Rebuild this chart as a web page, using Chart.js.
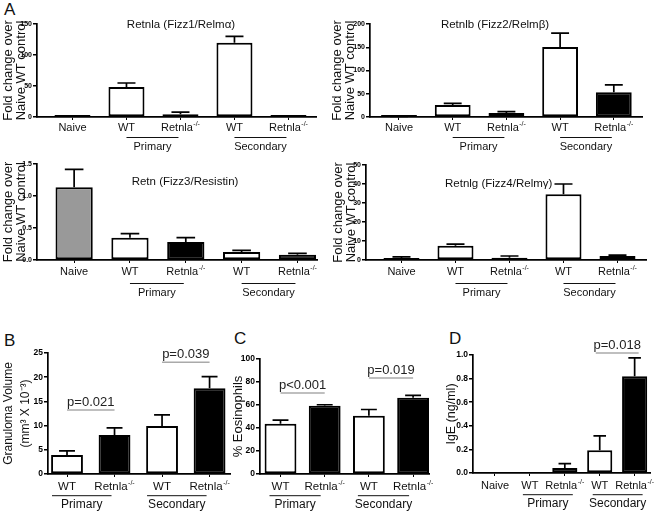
<!DOCTYPE html>
<html>
<head>
<meta charset="utf-8">
<script src="https://cdn.jsdelivr.net/npm/chart.js@4.4.0/dist/chart.umd.min.js"></script>
<style>
  body { margin: 0; width: 661px; height: 514px; background: #fff; position: relative; overflow: hidden; font-family: 'Liberation Sans', Arial, sans-serif; }
  canvas { position: absolute; }
  .letter { position: absolute; font-size: 17px; line-height: 1; color: #111; }
</style>
</head>
<body>
<div class="letter" style="left:4px;top:1px">A</div>
<div class="letter" style="left:4px;top:332px">B</div>
<div class="letter" style="left:234px;top:330px">C</div>
<div class="letter" style="left:449px;top:330px">D</div>
<script>
// categories
const groupNames = ['Primary', 'Secondary'];
const aLabels = ['Naive', 'WT', 'Retnla', 'WT', 'Retnla'];
const aSupers = ['', '', '-/-', '', '-/-'];
const aGroups = [null, 0, 0, 1, 1];
const bcLabels = ['WT', 'Retnla', 'WT', 'Retnla'];
const bcSupers = ['', '-/-', '', '-/-'];
const bcGroups = [0, 0, 1, 1];

// panel A, fold change over naive WT control (mean, SEM)
const retnlaMean = [1, 48.4, 4.3, 119.9, 0.3];
const retnlaSem = [0.3, 6.4, 3.7, 10.1, 0];
const retnlbMean = [1, 25.8, 8.6, 150.5, 53];
const retnlbSem = [0.3, 3.6, 2.9, 30, 16];
const retnMean = [1.135, 0.349, 0.281, 0.125, 0.083];
const retnSem = [0.282, 0.062, 0.068, 0.026, 0.021];
const retnlgMean = [1.05, 7.5, 1.2, 34.6, 2.1];
const retnlgSem = [0.55, 0.9, 0.9, 5.4, 0.5];

// panels B, C, D
const granulomaMean = [3.94, 8.08, 9.94, 17.7];
const granulomaSem = [0.83, 1.45, 2.26, 2.4];
const eosMean = [43.6, 59.3, 50.6, 66.3];
const eosSem = [3.2, 0.9, 5.5, 2.0];
const igeMean = [0, 0, 0.042, 0.193, 0.819];
const igeSem = [0, 0, 0.037, 0.121, 0.156];

// p values: [text, first bar, last bar]
const granulomaP = [['p=0.021', 0, 1], ['p=0.039', 2, 3]];
const eosP = [['p<0.001', 0, 1], ['p=0.019', 2, 3]];
const igeP = [['p=0.018', 3, 4]];

const FONT = "'Liberation Sans', Arial, sans-serif";
const aFills = ['#999', '#fff', '#000', '#fff', '#000'];
const bcFills = ['#fff', '#000', '#fff', '#000'];
const dFills = ['#999', '#fff', '#000', '#fff', '#000'];

function extras(spec) {
  return {
    id: 'extras',
    afterDatasetsDraw(chart) {
      const ctx = chart.ctx, xs = chart.scales.x, ys = chart.scales.y;
      const area = chart.chartArea;
      const bars = chart.getDatasetMeta(0).data;
      ctx.save();
      // error bars (upper only)
      ctx.strokeStyle = '#000';
      ctx.lineWidth = 1.7;
      spec.sem.forEach((s, i) => {
        if (!s) return;
        const b = bars[i];
        const top = ys.getPixelForValue(spec.mean[i] + s);
        const half = b.width * 0.25;
        ctx.beginPath();
        ctx.moveTo(b.x, b.y);
        ctx.lineTo(b.x, top);
        ctx.moveTo(b.x - half, top);
        ctx.lineTo(b.x + half, top);
        ctx.stroke();
      });
      // category labels with superscript
      ctx.fillStyle = '#111';
      ctx.textBaseline = 'middle';
      ctx.textAlign = 'left';
      spec.labels.forEach((lab, i) => {
        const px = xs.getPixelForValue(i);
        const y = area.bottom + spec.labOff;
        ctx.font = spec.labFont + 'px ' + FONT;
        const w = ctx.measureText(lab).width;
        const sup = spec.supers[i];
        ctx.font = '7px ' + FONT;
        const ws = sup ? ctx.measureText(sup).width + 0.5 : 0;
        const x0 = px - (w + ws) / 2;
        ctx.font = spec.labFont + 'px ' + FONT;
        ctx.fillText(lab, x0, y);
        if (sup) {
          ctx.font = '7px ' + FONT;
          ctx.fillText(sup, x0 + w + 0.5, y - 4);
        }
      });
      // group lines and names
      groupNames.forEach((name, g) => {
        const idx = spec.groups.map((v, i) => v === g ? i : -1).filter(i => i >= 0);
        const x1 = xs.getPixelForValue(idx[0]) - spec.gExt[0];
        const x2 = xs.getPixelForValue(idx[idx.length - 1]) + spec.gExt[1];
        const ly = area.bottom + spec.gLine;
        ctx.strokeStyle = '#111';
        ctx.lineWidth = 1;
        ctx.beginPath();
        ctx.moveTo(x1, ly);
        ctx.lineTo(x2, ly);
        ctx.stroke();
        ctx.font = spec.gFont + 'px ' + FONT;
        ctx.textAlign = 'center';
        ctx.fillText(name, (x1 + x2) / 2, area.bottom + spec.gText);
        ctx.textAlign = 'left';
      });
      // p value brackets
      (spec.pvals || []).forEach(([txt, a, b]) => {
        const x1 = xs.getPixelForValue(a) - (spec.pExt || 0);
        const x2 = xs.getPixelForValue(b) + (spec.pExt || 0);
        const ly = ys.getPixelForValue(spec.pLevel[a]);
        ctx.strokeStyle = '#aaa';
        ctx.lineWidth = 1.5;
        ctx.beginPath();
        ctx.moveTo(x1, ly);
        ctx.lineTo(x2, ly);
        ctx.stroke();
        ctx.font = '13px ' + FONT;
        ctx.textAlign = 'center';
        ctx.textBaseline = 'alphabetic';
        ctx.fillStyle = '#222';
        ctx.fillText(txt, (x1 + x2) / 2, ly - 4);
      });
      // chart title
      if (spec.title) {
        ctx.font = '11.5px ' + FONT;
        ctx.fillStyle = '#111';
        ctx.textBaseline = 'middle';
        ctx.textAlign = spec.title[3] || 'center';
        ctx.fillText(spec.title[0], spec.title[1], spec.title[2]);
      }
      ctx.restore();
    }
  };
}

function makePanel(spec) {
  const canvas = document.createElement('canvas');
  canvas.width = spec.w;
  canvas.height = spec.h;
  canvas.style.left = spec.left + 'px';
  canvas.style.top = spec.top + 'px';
  document.body.appendChild(canvas);
  new Chart(canvas, {
    type: 'bar',
    data: {
      datasets: [{
        data: spec.mean.map((v, i) => ({ x: i, y: v })),
        backgroundColor: spec.fills,
        borderColor: '#000',
        borderWidth: 2,
        borderSkipped: false,
        barPercentage: spec.barPct,
        categoryPercentage: 1,
        minBarLength: spec.minBar || 0
      }]
    },
    options: {
      responsive: false,
      animation: false,
      devicePixelRatio: 1,
      layout: { padding: spec.pad },
      plugins: { legend: { display: false }, tooltip: { enabled: false } },
      scales: {
        x: {
          type: 'linear',
          min: spec.xMin,
          max: spec.xMax,
          offset: false,
          afterBuildTicks: s => { s.ticks = spec.labels.map((_, i) => ({ value: i })); },
          afterFit: s => { s.height = 0; },
          ticks: { display: false },
          grid: { display: true, offset: false, drawOnChartArea: false, drawTicks: true, tickLength: 3, color: '#000', lineWidth: 1 },
          border: { display: true, color: '#000', width: 1.7 }
        },
        y: {
          min: 0,
          max: spec.yMax,
          afterFit: s => { s.width = spec.yWidth; },
          ticks: {
            stepSize: spec.yStep,
            color: '#000',
            padding: 1,
            font: { family: FONT, size: spec.tickFont, weight: 'bold' },
            callback: v => v.toFixed(spec.dec)
          },
          grid: { display: true, drawOnChartArea: false, drawTicks: true, tickLength: 4, color: '#000', lineWidth: 1.5 },
          border: { display: true, color: '#000', width: 1.7 },
          title: {
            display: true,
            text: spec.yTitle,
            color: '#111',
            font: { family: FONT, size: spec.yTitleSize, lineHeight: spec.yTitleLH },
            padding: { top: spec.yTitlePad, bottom: 0 }
          }
        }
      }
    },
    plugins: [extras(spec)]
  });
}

const aCommon = {
  labels: aLabels, supers: aSupers, groups: aGroups, fills: aFills,
  barPct: 0.667, minBar: 2, tickFont: 7, dec: 0,
  yTitle: ['Fold change over', 'Naive WT control'], yTitleSize: 13, yTitleLH: 1.0,
  labFont: 11, gFont: 11, gExt: [0, -2]
};

makePanel(Object.assign({}, aCommon, {
  left: 0, top: 0, w: 330, h: 155, pad: { top: 24, right: 14, bottom: 38, left: 0 }, yWidth: 37,
  mean: retnlaMean, sem: retnlaSem, yMax: 150, yStep: 50,
  xMin: -0.657, xMax: 4.51, yTitlePad: 2,
  labOff: 11, gLine: 20.5, gText: 30,
  title: ['Retnla (Fizz1/Relm\u03b1)', 181, 25]
}));
makePanel(Object.assign({}, aCommon, {
  left: 330, top: 0, w: 331, h: 155, pad: { top: 24, right: 19, bottom: 38, left: 0 }, yWidth: 40,
  mean: retnlbMean, sem: retnlbSem, yMax: 200, yStep: 50,
  xMin: -0.54, xMax: 4.525, yTitlePad: 1,
  labOff: 11, gLine: 20.5, gText: 30,
  title: ['Retnlb (Fizz2/Relm\u03b2)', 165, 25]
}));
makePanel(Object.assign({}, aCommon, {
  left: 0, top: 155, w: 330, h: 150, pad: { top: 9, right: 13, bottom: 45, left: 0 }, yWidth: 37,
  mean: retnMean, sem: retnSem, yMax: 1.5, yStep: 0.5, dec: 1,
  xMin: -0.665, xMax: 4.35, yTitlePad: 1.5,
  labOff: 12, gLine: 23.5, gText: 33,
  title: ['Retn (Fizz3/Resistin)', 185, 27]
}));
makePanel(Object.assign({}, aCommon, {
  left: 330, top: 155, w: 331, h: 150, pad: { top: 10, right: 15, bottom: 45, left: 0 }, yWidth: 36,
  mean: retnlgMean, sem: retnlgSem, yMax: 50, yStep: 10,
  xMin: -0.657, xMax: 4.528, yTitlePad: 1.5,
  labOff: 12, gLine: 23.5, gText: 33,
  title: ['Retnlg (Fizz4/Relm\u03b3)', 115, 29, 'left']
}));

const bcdCommon = { tickFont: 8.5, labFont: 11.5, gFont: 12, labOff: 12.7, gLine: 21.7, gText: 31 };

makePanel(Object.assign({}, bcdCommon, {
  left: 0, top: 330, w: 232, h: 184, pad: { top: 23, right: 2, bottom: 40, left: 0 }, yWidth: 48,
  labels: bcLabels, supers: bcSupers, groups: bcGroups, fills: bcFills,
  mean: granulomaMean, sem: granulomaSem, yMax: 25, yStep: 5, dec: 0,
  xMin: -0.4, xMax: 3.43, barPct: 0.67, gExt: [15, -3],
  yTitle: ['Granuloma Volume', '(mm\u00b3 X 10\u207b\u00b3)'], yTitleSize: 12, yTitleLH: 1.4, yTitlePad: 0,
  pvals: granulomaP, pLevel: [13.2, 13.2, 23.1, 23.1]
}));
makePanel(Object.assign({}, bcdCommon, {
  left: 222, top: 330, w: 212, h: 184, pad: { top: 29, right: 5, bottom: 40, left: 0 }, yWidth: 38,
  labels: bcLabels, supers: bcSupers, groups: bcGroups, fills: bcFills,
  mean: eosMean, sem: eosSem, yMax: 100, yStep: 20, dec: 0,
  xMin: -0.464, xMax: 3.36, barPct: 0.72, gExt: [11, -4],
  yTitle: '% Eosinophils', yTitleSize: 13, yTitleLH: 1.2, yTitlePad: 8.7,
  pvals: eosP, pLevel: [70.4, 70.4, 83.5, 83.5]
}));
makePanel(Object.assign({}, bcdCommon, {
  left: 435, top: 330, w: 226, h: 184, pad: { top: 25, right: 11, bottom: 41, left: 0 }, yWidth: 38,
  labels: aLabels, supers: aSupers, groups: aGroups, fills: dFills,
  mean: igeMean, sem: igeSem, yMax: 1.0, yStep: 0.2, dec: 1,
  xMin: -0.63, xMax: 4.44, barPct: 0.72, gExt: [7, 8], labFont: 11,
  yTitle: 'IgE (ng/ml)', yTitleSize: 12.5, yTitleLH: 1.2, yTitlePad: 9.5,
  pvals: igeP, pLevel: [0, 0, 0, 1.017, 1.017], pExt: 4
}));
</script>
</body>
</html>
